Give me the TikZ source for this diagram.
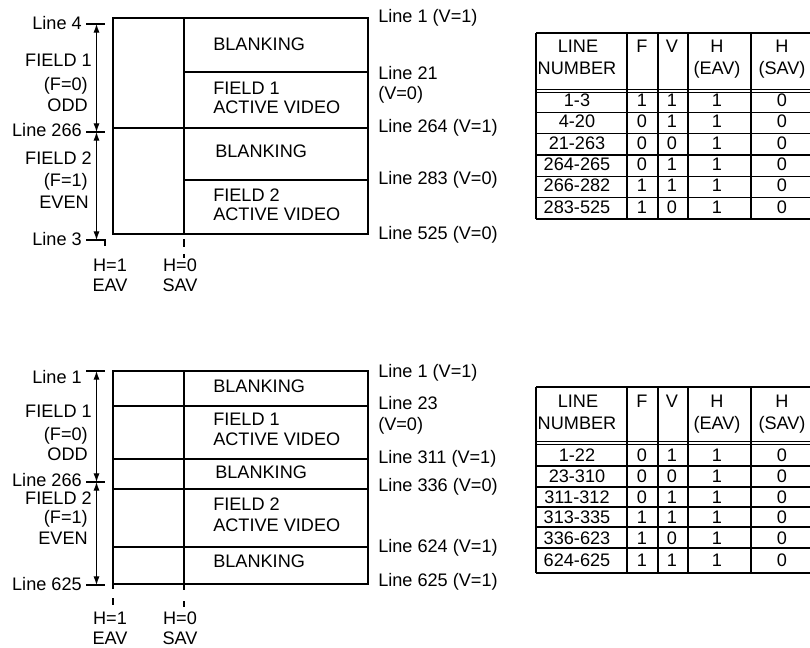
\documentclass[tikz,border=0pt]{standalone}
\usepackage{fontspec}
\setmainfont{Liberation Sans}
\usetikzlibrary{arrows.meta}
\begin{document}
\begin{tikzpicture}[x=0.75pt,y=-0.75pt,
  every node/.style={font=\fontsize{13.6}{16}\selectfont, inner sep=0pt, text height=0.716em, text depth=0pt},
  lab/.style={anchor=west},
  labr/.style={anchor=east},
  frame/.style={line width=0.9pt},
  tick/.style={line width=0.8pt},
  dbl/.style={line width=0.6pt},
  dim/.style={line width=0.8pt, {Latex[length=6.5pt,width=4.6pt]}-{Latex[length=6.5pt,width=4.6pt]}}
]
\useasboundingbox (0,0) rectangle (810,648);

% ================= TOP DIAGRAM =================
\draw[frame] (113,18) rectangle (368,234);
\draw[frame] (184,18) -- (184,234);
\draw[frame] (184,72) -- (368,72);
\draw[frame] (113,128) -- (368,128);
\draw[frame] (184,180) -- (368,180);

\draw[tick] (86,24) -- (105,24);
\draw[tick] (86,132) -- (105,132);
\draw[tick] (86,240) -- (105,240) -- (105,246);
\coordinate (a4) at (96.5,24);
\coordinate (a266) at (96.5,132);
\coordinate (a3) at (96.5,240);
\draw[dim] (a4) -- (a266);
\draw[dim] (a266) -- (a3);

\draw[tick] (184,239) -- (184,247);
\draw[tick] (184,254) -- (184,258);

\node[labr] (l4) at (82,25) {Line 4};
\node[labr] (f1) at (92,62) {FIELD 1};
\node[labr] (f1f) at (88,86) {(F=0)};
\node[labr] (f1o) at (88,107) {ODD};
\node[labr] (l266) at (82,132) {Line 266};
\node[labr] (f2) at (92,160) {FIELD 2};
\node[labr] (f2f) at (88,182) {(F=1)};
\node[labr] (f2e) at (89,204) {EVEN};
\node[labr] (l3) at (82,241) {Line 3};

\node (h1) at (110,267) {H=1};
\node (eav) at (110,287) {EAV};
\node (h0) at (180,267) {H=0};
\node (sav) at (180,287) {SAV};

\node[lab] (b1) at (213,46) {BLANKING};
\node[lab] (a1a) at (213,90) {FIELD 1};
\node[lab] (a1b) at (213,109) {ACTIVE VIDEO};
\node[lab] (b2) at (215,153) {BLANKING};
\node[lab] (a2a) at (213,197) {FIELD 2};
\node[lab] (a2b) at (213,216) {ACTIVE VIDEO};

\node[lab] (r1) at (378,18) {Line 1 (V=1)};
\node[lab] (r21) at (378,75) {Line 21};
\node[lab] (r21v) at (378,95) {(V=0)};
\node[lab] (r264) at (378,128) {Line 264 (V=1)};
\node[lab] (r283) at (378,180) {Line 283 (V=0)};
\node[lab] (r525) at (378,235) {Line 525 (V=0)};

% top table
\draw[frame] (536,33) -- (815,33);
\foreach \cx in {536,627,658,688,751} \draw[frame] (\cx,33) -- (\cx,219);
\draw[dbl] (536,89) -- (815,89);
\draw[dbl] (536,92) -- (815,92);
\foreach \ry in {112.3,133.7,155,176.3,197.7,219} \draw[frame] (536,\ry) -- (815,\ry);
\node (tah1) at (578,48) {LINE};
\node (tah2) at (577,70) {NUMBER};
\node (tahf) at (642,48) {F};
\node (tahv) at (672,48) {V};
\node (tahe1) at (717,48) {H};
\node (tahe2) at (717,70) {(EAV)};
\node (tahs1) at (782,48) {H};
\node (tahs2) at (782,70) {(SAV)};
\foreach \ln/\f/\v/\y [count=\i] in {1-3/1/1/101.7, 4-20/0/1/123, 21-263/0/0/145, 264-265/0/1/165.7, 266-282/1/1/187, 283-525/1/0/208.3}{
  \node (ta-n-\i) at (577,\y) {\ln};
  \node (ta-f-\i) at (642,\y) {\f};
  \node (ta-v-\i) at (672,\y) {\v};
  \node (ta-e-\i) at (717,\y) {1};
  \node (ta-s-\i) at (782,\y) {0};
}

% ================= BOTTOM DIAGRAM =================
\draw[frame] (113,371) rectangle (368,584);
\draw[frame] (184,371) -- (184,584);
\foreach \hy in {406,459,489,547} \draw[frame] (113,\hy) -- (368,\hy);

\draw[tick] (86,371) -- (105,371);
\draw[tick] (86,482) -- (105,482);
\draw[tick] (86,585) -- (105,585);
\coordinate (b1c) at (96.5,371);
\coordinate (b266) at (96.5,482);
\coordinate (b625) at (96.5,585);
\draw[dim] (b1c) -- (b266);
\draw[dim] (b266) -- (b625);

\draw[tick] (113,584) -- (113,589);
\draw[tick] (113,598) -- (113,605);
\draw[tick] (184,584) -- (184,590);
\draw[tick] (184,601) -- (184,607);

\node[labr] (m1) at (82,379) {Line 1};
\node[labr] (g1) at (92,413) {FIELD 1};
\node[labr] (g1f) at (88,436) {(F=0)};
\node[labr] (g1o) at (88,456) {ODD};
\node[labr] (m266) at (82,482) {Line 266};
\node[labr] (g2) at (92,500) {FIELD 2};
\node[labr] (g2f) at (88,519) {(F=1)};
\node[labr] (g2e) at (88,540) {EVEN};
\node[labr] (m625) at (82,586) {Line 625};

\node (bh1) at (110,620) {H=1};
\node (beav) at (110,640) {EAV};
\node (bh0) at (180,620) {H=0};
\node (bsav) at (180,640) {SAV};

\node[lab] (c1) at (213,388) {BLANKING};
\node[lab] (c1a) at (213,421) {FIELD 1};
\node[lab] (c1b) at (213,441) {ACTIVE VIDEO};
\node[lab] (c2) at (215,474) {BLANKING};
\node[lab] (c2a) at (213,506) {FIELD 2};
\node[lab] (c2b) at (213,527) {ACTIVE VIDEO};
\node[lab] (c3) at (213,563) {BLANKING};

\node[lab] (s1) at (378,373) {Line 1 (V=1)};
\node[lab] (s23) at (378,405) {Line 23};
\node[lab] (s23v) at (378,426) {(V=0)};
\node[lab] (s311) at (378,459) {Line 311 (V=1)};
\node[lab] (s336) at (378,487) {Line 336 (V=0)};
\node[lab] (s624) at (378,548) {Line 624 (V=1)};
\node[lab] (s625) at (378,582) {Line 625 (V=1)};

% bottom table
\draw[frame] (536,387) -- (815,387);
\foreach \cx in {536,627,658,688,751} \draw[frame] (\cx,387) -- (\cx,573);
\draw[dbl] (536,441.5) -- (815,441.5);
\draw[dbl] (536,444.5) -- (815,444.5);
\foreach \ry in {466,487,507,527,548,573} \draw[frame] (536,\ry) -- (815,\ry);
\node (tbh1) at (578,403) {LINE};
\node (tbh2) at (577,425) {NUMBER};
\node (tbhf) at (642,403) {F};
\node (tbhv) at (672,403) {V};
\node (tbhe1) at (717,403) {H};
\node (tbhe2) at (717,425) {(EAV)};
\node (tbhs1) at (782,403) {H};
\node (tbhs2) at (782,425) {(SAV)};
\foreach \ln/\f/\v/\y [count=\i] in {1-22/0/1/457, 23-310/0/0/478, 311-312/0/1/499, 313-335/1/1/518.5, 336-623/1/0/539.5, 624-625/1/1/562}{
  \node (tb-n-\i) at (577,\y) {\ln};
  \node (tb-f-\i) at (642,\y) {\f};
  \node (tb-v-\i) at (672,\y) {\v};
  \node (tb-e-\i) at (717,\y) {1};
  \node (tb-s-\i) at (782,\y) {0};
}
\end{tikzpicture}
\end{document}
